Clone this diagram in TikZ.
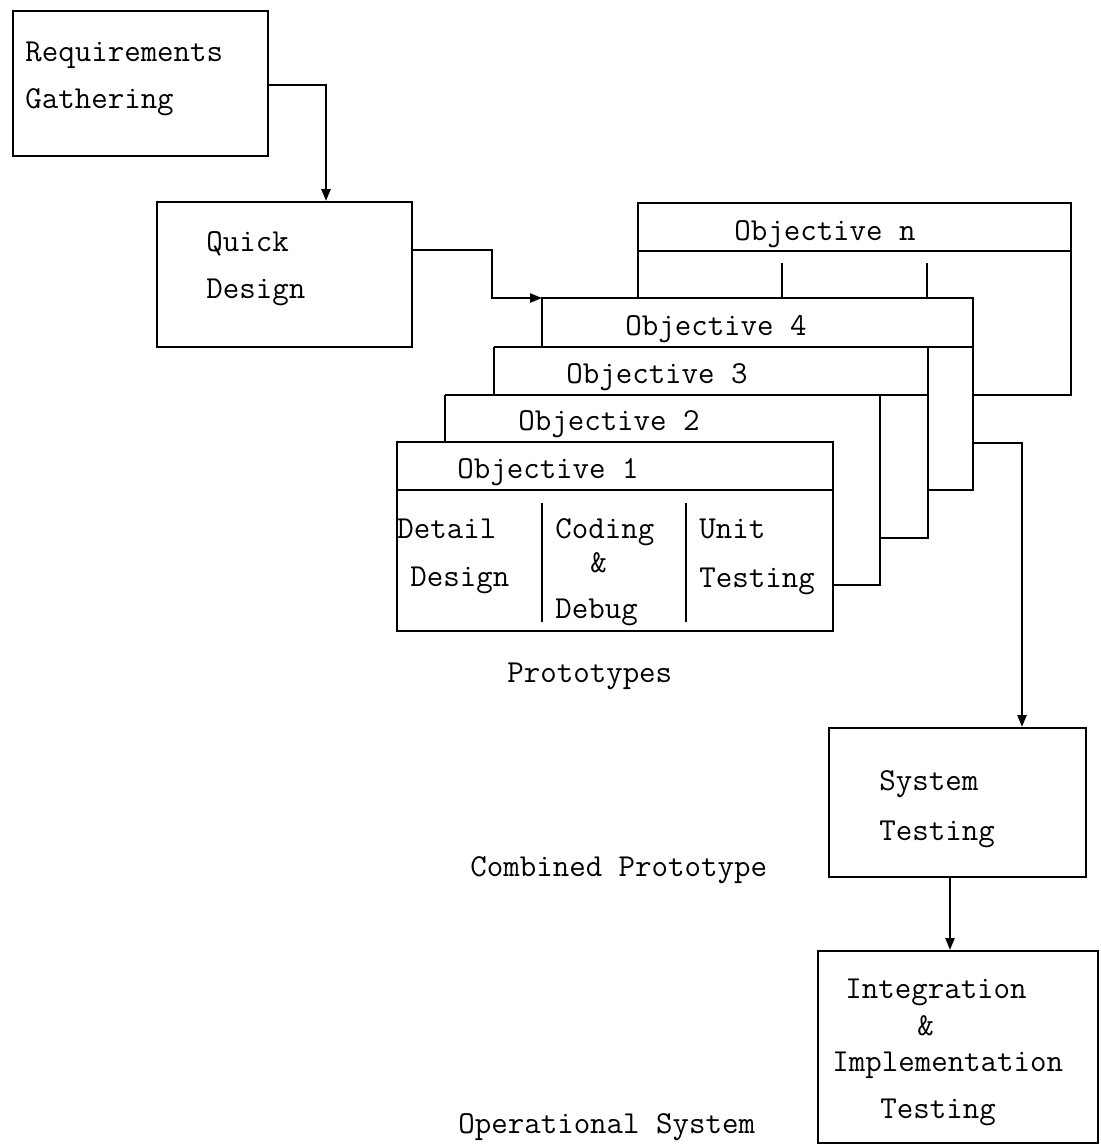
\documentclass[tikz,border=0pt]{standalone}
\usepackage{fontspec}
\usetikzlibrary{arrows.meta}
\tikzset{
  box/.style={draw, line width=1.2pt, rectangle, inner sep=0pt, anchor=north west},
  lbl/.style={anchor=base west, inner sep=0pt, font=\fontsize{16pt}{18pt}\selectfont\ttfamily},
  clbl/.style={anchor=base, inner sep=0pt, font=\fontsize{16pt}{18pt}\selectfont\ttfamily},
  ln/.style={line width=1.2pt},
  arr/.style={line width=1.2pt, -{Triangle[length=6pt,width=4.5pt]}}
}
\begin{document}
\begin{tikzpicture}[x=0.5pt,y=-0.5pt]
\useasboundingbox (0,0) rectangle (1100,1146);

% main boxes
\node[box, minimum width=127.5pt, minimum height=72.5pt] (req) at (12,10) {};
\node[box, minimum width=127.5pt, minimum height=72.5pt] (qd) at (156,201) {};
\node[box, minimum width=128.5pt, minimum height=74.5pt] (st) at (828,727) {};
\node[box, minimum width=140pt, minimum height=96pt] (it) at (817,950) {};

\node[lbl] (t1) at (25,61) {Requirements};
\node[lbl] (t2) at (25,108) {Gathering};
\node[lbl] (t3) at (206,251) {Quick};
\node[lbl] (t4) at (206,298) {Design};
\node[lbl] (t5) at (879,790) {System};
\node[lbl] (t6) at (879,840) {Testing};
\node[lbl] (t7) at (845,998) {Integration};
\node[lbl] (t8) at (917,1035) {\&};
\node[lbl] (t9) at (832,1071) {Implementation};
\node[lbl] (t10) at (880,1118) {Testing};

% objective stack
\coordinate (o4tl) at (542,298);
\coordinate (o4r) at (973,443);
% objective n
\draw[ln] (638,298) -- (638,203) -- (1071,203) -- (1071,395) -- (973,395);
\draw[ln] (638,251) -- (1071,251);
\draw[ln] (782,263) -- (782,298);
\draw[ln] (927,263) -- (927,298);
% objective 4
\draw[ln] (542,347) -- (o4tl) -- (973,298) -- (973,490) -- (928,490);
\draw[ln] (494,347) -- (973,347);
% objective 3
\draw[ln] (494,395) -- (494,347);
\draw[ln] (928,347) -- (928,538) -- (880,538);
\draw[ln] (445,395) -- (928,395);
% objective 2
\draw[ln] (445,442) -- (445,395);
\draw[ln] (880,395) -- (880,585) -- (833,585);
% objective 1
\draw[ln] (397,442) rectangle (833,631);
\draw[ln] (397,490) -- (833,490);
\draw[ln] (542,503) -- (542,622);
\draw[ln] (686,503) -- (686,622);

\node[clbl] (on) at (825,240) {Objective n};
\node[clbl] (o4) at (716,335) {Objective 4};
\node[clbl] (o3) at (657,383) {Objective 3};
\node[clbl] (o2) at (609,430) {Objective 2};
\node[clbl] (o1) at (548,478) {Objective 1};

\node[lbl] (d1) at (397,538) {Detail};
\node[lbl] (d2) at (410,586) {Design};
\node[lbl] (c1) at (555,538) {Coding};
\node[lbl] (c2) at (590,572) {\&};
\node[lbl] (c3) at (555,618) {Debug};
\node[lbl] (u1) at (699,538) {Unit};
\node[lbl] (u2) at (699,587) {Testing};

\node[lbl] (p1) at (507,682) {Prototypes};
\node[lbl] (p2) at (470,876) {Combined Prototype};
\node[lbl] (p3) at (458,1133) {Operational System};

% connectors
\draw[arr] (req.east |- 0,85) -- (326,85) -- (326,201);
\draw[arr] (qd.east |- 0,250) -- (492,250) -- (492,298) -- (o4tl);
\draw[arr] (o4r) -- (1022,443) -- (1022,727);
\draw[arr] (st.south -| 950,0) -- (950,950);
\end{tikzpicture}
\end{document}
